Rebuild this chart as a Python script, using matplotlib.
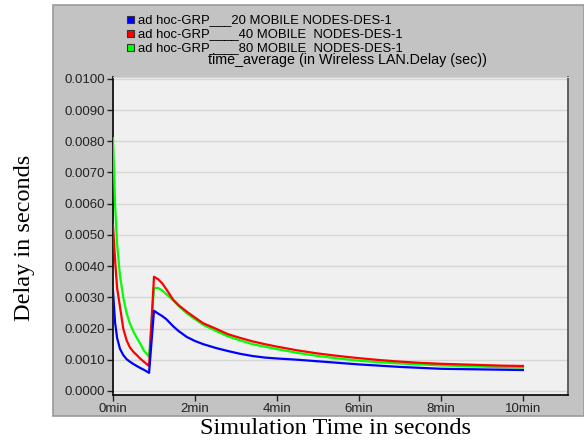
import matplotlib
matplotlib.use("Agg")
import matplotlib.pyplot as plt
from matplotlib.patches import Rectangle
import numpy as np

# time in minutes
t_min = [0, 0.05, 0.1, 0.17, 0.25, 0.33, 0.41, 0.5, 0.58, 0.66, 0.75, 0.88,
         1.0, 1.1, 1.2, 1.3, 1.47, 1.6, 1.8, 2.0, 2.2, 2.5, 2.8, 3.1, 3.4,
         3.7, 4.0, 4.5, 5.0, 5.5, 6.0, 6.5, 7.0, 7.5, 8.0, 8.5, 9.0, 9.5, 10.0]

delay_20 = [0.0032, 0.0022, 0.0017, 0.00135, 0.00115, 0.00102, 0.00094, 0.00086,
            0.0008, 0.00074, 0.00068, 0.00058,
            0.00257, 0.00248, 0.0024, 0.0023, 0.00207, 0.00192, 0.00173, 0.0016,
            0.0015, 0.00138, 0.00128, 0.00119, 0.00112, 0.00107, 0.00104, 0.001,
            0.00095, 0.0009, 0.00085, 0.00081, 0.00077, 0.00074, 0.00071, 0.0007,
            0.00069, 0.00068, 0.00067]

delay_40 = [0.0053, 0.0042, 0.0033, 0.0027, 0.002, 0.00163, 0.0014, 0.00125,
            0.00115, 0.00104, 0.00094, 0.0008,
            0.00366, 0.00358, 0.00345, 0.00326, 0.00292, 0.00275, 0.00254, 0.00235,
            0.00217, 0.002, 0.00182, 0.0017, 0.00159, 0.0015, 0.00142, 0.0013,
            0.0012, 0.00112, 0.00105, 0.00099, 0.00094, 0.0009, 0.00087, 0.00085,
            0.00083, 0.00081, 0.0008]

delay_80 = [0.0081, 0.006, 0.0047, 0.0037, 0.003, 0.0025, 0.00217, 0.0019,
            0.0017, 0.00153, 0.0013, 0.0011,
            0.0033, 0.0033, 0.00322, 0.0031, 0.0029, 0.00272, 0.00249, 0.0023,
            0.00212, 0.00193, 0.00175, 0.00162, 0.0015, 0.00142, 0.00134, 0.00122,
            0.00112, 0.00104, 0.00097, 0.00092, 0.00088, 0.00085, 0.00082, 0.0008,
            0.00078, 0.00076, 0.00075]

series_labels = ["ad hoc-GRP___20 MOBILE NODES-DES-1",
                 "ad hoc-GRP____40 MOBILE  NODES-DES-1",
                 "ad hoc-GRP____80 MOBILE  NODES-DES-1"]
colors = ["#0000ff", "#ff0000", "#00ff00"]

y_ticks = np.arange(0, 0.01001, 0.001)
x_ticks = [0, 2, 4, 6, 8, 10]
x_ticklabels = ["0min", "2min", "4min", "6min", "8min", "10min"]

W, H = 584, 440
fig = plt.figure(figsize=(W / 100, H / 100), dpi=100)
fig.patch.set_facecolor("white")

# gray OPNET-style panel, behind the axes
panel = Rectangle((53 / W, 1 - 416 / H), 1 - 53 / W, (416 - 5) / H,
                  transform=fig.transFigure, facecolor="#c3c3c3",
                  edgecolor="#9a9a9a", linewidth=1.2, zorder=-10)
fig.add_artist(panel)

ax = fig.add_axes([113 / W, 1 - 395 / H, (568 - 113) / W, (395 - 77) / H])
ax.set_facecolor("#f0f0f0")

# green first, then red, then blue on top
ax.plot(t_min, delay_80, color=colors[2], linewidth=1.6, zorder=3)
ax.plot(t_min, delay_40, color=colors[1], linewidth=1.6, zorder=4)
ax.plot(t_min, delay_20, color=colors[0], linewidth=1.6, zorder=5)

ax.set_xlim(0, 11.1)
ax.set_ylim(-0.00013, 0.01006)
ax.set_yticks(y_ticks)
ax.set_yticklabels([f"{v:.4f}" for v in y_ticks])
ax.set_xticks(x_ticks)
ax.set_xticklabels(x_ticklabels)
ax.yaxis.grid(True, color="#d6d6d6", linewidth=1.0)
ax.xaxis.grid(False)
ax.set_axisbelow(True)

for lab in ax.get_xticklabels() + ax.get_yticklabels():
    lab.set_fontfamily("Liberation Sans")
    lab.set_fontsize(9.5)
    lab.set_color("#222222")
ax.tick_params(axis="both", direction="out", length=4, width=1, color="#222222", pad=2)

ax.spines["left"].set_color("#111111")
ax.spines["bottom"].set_color("#111111")
ax.spines["left"].set_linewidth(1.3)
ax.spines["bottom"].set_linewidth(1.3)
ax.spines["top"].set_color("#d0d0d0")
ax.spines["right"].set_color("#555555")
ax.spines["right"].set_linewidth(1.3)

# title and legend (inside the gray panel)
fig.text(347 / W, 1 - 60 / H, "time_average (in Wireless LAN.Delay (sec))",
         ha="center", va="center", fontsize=10.3, family="Liberation Sans")
for i, (lab, c) in enumerate(zip(series_labels, colors)):
    yc = 1 - (20 + 14 * i) / H
    fig.add_artist(Rectangle((127 / W, yc - 3.5 / H), 7 / W, 7 / H,
                             transform=fig.transFigure, facecolor=c,
                             edgecolor="#333333", linewidth=0.8, zorder=2))
    fig.text(138 / W, yc, lab, ha="left", va="center", fontsize=9.4,
             family="Liberation Sans")

fig.text(25 / W, 1 - 238 / H, "Delay in seconds", rotation=90, ha="center",
         va="center", fontsize=17.5, family="Liberation Serif")
fig.text(335 / W, 1 - 428 / H, "Simulation Time in seconds", ha="center",
         va="center", fontsize=17.5, family="Liberation Serif")

fig.savefig("out.png", dpi=100)
